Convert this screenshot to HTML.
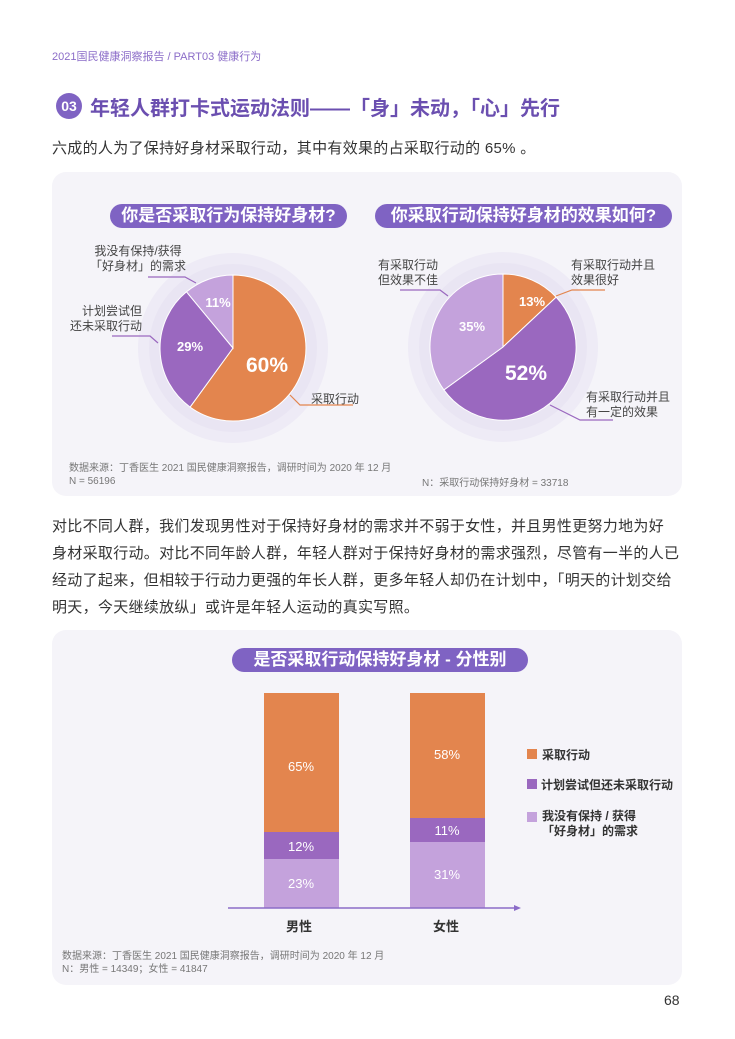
<!DOCTYPE html>
<html><head><meta charset="utf-8"><style>
body{margin:0;width:735px;height:1039px;background:#fff;position:relative;overflow:hidden;font-family:"Liberation Sans","Noto Sans CJK SC",sans-serif;}
.a{position:absolute;white-space:nowrap}
.panel{position:absolute;background:#f5f4f9;border-radius:14px}
.pill{position:absolute;background:#7f63c3;color:#fff;border-radius:13px;text-align:center;font-weight:bold;font-size:17px;line-height:24px;white-space:nowrap;overflow:hidden}
.p{font-size:15px;color:#333;letter-spacing:0.3px}
.wm{position:absolute;color:#f1eef5;font-size:34px;transform:rotate(-35deg);white-space:nowrap}
</style></head><body>
<div class="a" style="left:52px;top:48px;font-size:11px;color:#8b6cc8">2021国民健康洞察报告 / PART03 健康行为</div>
<div class="a" style="left:56px;top:93px;width:26px;height:26px;border-radius:13px;background:#7f63c3;color:#fff;font-weight:bold;font-size:14px;line-height:26px;text-align:center">03</div>
<div class="a" style="left:90px;top:92px;font-size:20px;font-weight:bold;color:#6b4fb0">年轻人群打卡式运动法则——「身」未动，「心」先行</div>
<div class="a p" style="left:52px;top:137px">六成的人为了保持好身材采取行动，其中有效果的占采取行动的 65% 。</div>

<div class="panel" style="left:52px;top:172px;width:630px;height:324px"></div>
<div class="pill" style="left:110px;top:204px;width:237px">你是否采取行为保持好身材?</div>
<div class="pill" style="left:375px;top:204px;width:297px">你采取行动保持好身材的效果如何?</div>
<svg class="a" style="left:0;top:0" width="735" height="1039">
<circle cx="233" cy="348" r="95" fill="#eeebf6"/><circle cx="233" cy="348" r="84" fill="#e9e5f3"/>
<path d="M233,348 L233,275 A73,73 0 1,1 190.1,407.1 Z" fill="#e3854e" stroke="#fff"/>
<path d="M233,348 L190.1,407.1 A73,73 0 0,1 186.5,291.8 Z" fill="#9a68bf" stroke="#fff"/>
<path d="M233,348 L186.5,291.8 A73,73 0 0,1 233,275 Z" fill="#c4a2dc" stroke="#fff"/>
<circle cx="503" cy="347" r="95" fill="#eeebf6"/><circle cx="503" cy="347" r="84" fill="#e9e5f3"/>
<path d="M503,347 L503,274 A73,73 0 0,1 556.2,297.1 Z" fill="#e3854e" stroke="#fff"/>
<path d="M503,347 L556.2,297.1 A73,73 0 1,1 443.9,389.9 Z" fill="#9a68bf" stroke="#fff"/>
<path d="M503,347 L443.9,389.9 A73,73 0 0,1 503,274 Z" fill="#c4a2dc" stroke="#fff"/>
<g stroke-width="1.2" fill="none">
<polyline points="148,277 185,277 196,283" stroke="#9a68bf"/>
<polyline points="112,336 150,336 158,343" stroke="#9a68bf"/>
<polyline points="290,395 300,405 353,405" stroke="#e3854e"/>
<polyline points="400,290 440,290 448,296" stroke="#9a68bf"/>
<polyline points="556,296 572,290 605,290" stroke="#e3854e"/>
<polyline points="550,405 580,420 613,420" stroke="#9a68bf"/>
</g>
<g fill="#fff" font-weight="bold" text-anchor="middle" font-family="Liberation Sans,sans-serif">
<text x="218" y="307" font-size="13">11%</text>
<text x="190" y="351" font-size="13">29%</text>
<text x="267" y="372" font-size="21">60%</text>
<text x="532" y="306" font-size="13">13%</text>
<text x="472" y="331" font-size="13">35%</text>
<text x="526" y="380" font-size="21">52%</text>
</g>
<rect x="52" y="630" width="630" height="355" rx="14" fill="#f5f4f9"/>
<rect x="264" y="693" width="75" height="139" fill="#e3854e"/>
<rect x="264" y="832" width="75" height="27" fill="#9a68bf"/>
<rect x="264" y="859" width="75" height="49" fill="#c4a2dc"/>
<rect x="410" y="693" width="75" height="125" fill="#e3854e"/>
<rect x="410" y="818" width="75" height="24" fill="#9a68bf"/>
<rect x="410" y="842" width="75" height="66" fill="#c4a2dc"/>
<line x1="228" y1="908" x2="518" y2="908" stroke="#8b6cc8" stroke-width="1.5"/>
<polygon points="521,908 514,905 514,911" fill="#8b6cc8"/>
<g fill="#fff" font-size="13" text-anchor="middle">
<text x="301" y="771">65%</text><text x="301" y="851">12%</text><text x="301" y="888">23%</text>
<text x="447" y="759">58%</text><text x="447" y="835">11%</text><text x="447" y="879">31%</text>
</g>
<rect x="527" y="749" width="10" height="10" fill="#e3854e"/>
<rect x="527" y="779" width="10" height="10" fill="#9a68bf"/>
<rect x="527" y="812" width="10" height="10" fill="#c4a2dc"/>
</svg>
<div class="a" style="left:90px;top:244px;font-size:12px;color:#444;line-height:15px;text-align:center">我没有保持/获得<br>「好身材」的需求</div>
<div class="a" style="left:70px;top:304px;font-size:12px;color:#444;line-height:15px;text-align:right">计划尝试但<br>还未采取行动</div>
<div class="a" style="left:311px;top:390px;font-size:12px;color:#444">采取行动</div>
<div class="a" style="left:378px;top:258px;font-size:12px;color:#444;line-height:15px">有采取行动<br>但效果不佳</div>
<div class="a" style="left:571px;top:258px;font-size:12px;color:#444;line-height:15px">有采取行动并且<br>效果很好</div>
<div class="a" style="left:586px;top:390px;font-size:12px;color:#444;line-height:15px">有采取行动并且<br>有一定的效果</div>
<div class="a" style="left:69px;top:462px;font-size:10px;color:#777;line-height:13px">数据来源：丁香医生 2021 国民健康洞察报告，调研时间为 2020 年 12 月<br>N = 56196</div>
<div class="a" style="left:422px;top:474px;font-size:10px;color:#777">N：采取行动保持好身材 = 33718</div>

<div class="a p" style="left:52px;top:513px;line-height:27px">对比不同人群，我们发现男性对于保持好身材的需求并不弱于女性，并且男性更努力地为好<br>身材采取行动。对比不同年龄人群，年轻人群对于保持好身材的需求强烈，尽管有一半的人已<br>经动了起来，但相较于行动力更强的年长人群，更多年轻人却仍在计划中，「明天的计划交给<br>明天，今天继续放纵」或许是年轻人运动的真实写照。</div>

<div class="pill" style="left:232px;top:648px;width:296px">是否采取行动保持好身材 - 分性别</div>
<div class="a" style="left:286px;top:916px;font-size:13px;font-weight:bold;color:#333">男性</div>
<div class="a" style="left:433px;top:916px;font-size:13px;font-weight:bold;color:#333">女性</div>
<div class="a" style="left:542px;top:746px;font-size:12px;font-weight:bold;color:#333">采取行动</div>
<div class="a" style="left:541px;top:776px;font-size:12px;font-weight:bold;color:#333">计划尝试但还未采取行动</div>
<div class="a" style="left:542px;top:809px;font-size:12px;font-weight:bold;color:#333;line-height:15px">我没有保持 / 获得<br>「好身材」的需求</div>
<div class="a" style="left:62px;top:950px;font-size:10px;color:#777;line-height:13px">数据来源：丁香医生 2021 国民健康洞察报告，调研时间为 2020 年 12 月<br>N：男性 = 14349；女性 = 41847</div>
<div class="a" style="left:664px;top:992px;font-size:14px;color:#333">68</div>
</body></html>
